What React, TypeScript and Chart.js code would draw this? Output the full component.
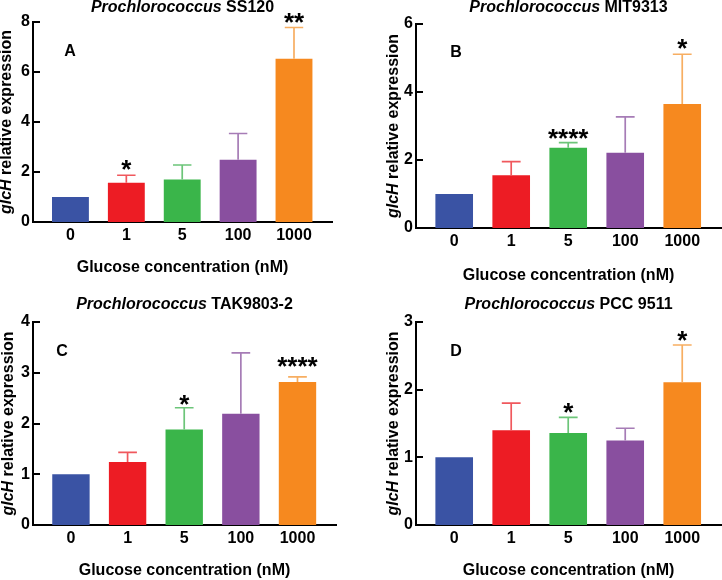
import React, { useEffect, useRef } from 'react';
import { Chart, registerables } from 'chart.js';

Chart.register(...registerables);

const FONT = '"Liberation Sans", Arial, Helvetica, sans-serif';

// ---- data ----
const categories = ['0', '1', '5', '100', '1000'];
const barColors = ['#3A53A4', '#ED1C24', '#3AB54A', '#894F9F', '#F6891F'];
const errColors = ['#8A9AD0', '#F0585D', '#6CC579', '#A67CB6', '#F7AE62'];

const strainA = 'SS120';
const meansA = [1.0, 1.57, 1.7, 2.49, 6.53];
const errsA = [0, 0.3, 0.58, 1.05, 1.25];
const starsA = ['', '*', '', '', '**'];

const strainB = 'MIT9313';
const meansB = [1.0, 1.55, 2.36, 2.21, 3.65];
const errsB = [0, 0.4, 0.15, 1.06, 1.46];
const starsB = ['', '', '****', '', '*'];

const strainC = 'TAK9803-2';
const meansC = [1.0, 1.24, 1.88, 2.19, 2.82];
const errsC = [0, 0.19, 0.43, 1.2, 0.1];
const starsC = ['', '', '*', '', '****'];

const strainD = 'PCC 9511';
const meansD = [1.0, 1.4, 1.36, 1.25, 2.11];
const errsD = [0, 0.4, 0.23, 0.18, 0.55];
const starsD = ['', '', '*', '', '*'];

const xTitle = 'Glucose concentration (nM)';
const genus = 'Prochlorococcus';
const yTitleItalic = 'glcH';
const yTitleRest = ' relative expression';

type PanelCfg = {
  letter: string;
  strain: string;
  means: number[];
  errs: number[];
  stars: string[];
  yMax: number;
  yStep: number;
  left: number;
  top: number;
  w: number;
  h: number;
  area: { l: number; r: number; t: number; b: number };
  titleY: number;
  letterPos: [number, number];
  yTitleX: number;
  xTitlePad: number;
  starGap: number[];
};

const panels: PanelCfg[] = [
  {
    letter: 'A', strain: strainA, means: meansA, errs: errsA, stars: starsA, yMax: 8, yStep: 2,
    left: 0, top: 0, w: 361, h: 290,
    area: { l: 33, r: 332, t: 22, b: 222 },
    titleY: 8, letterPos: [70, 52], yTitleX: 7, xTitlePad: 13, starGap: [12, 12, 12, 12, 12],
  },
  {
    letter: 'B', strain: strainB, means: meansB, errs: errsB, stars: starsB, yMax: 6, yStep: 2,
    left: 361, top: 0, w: 361, h: 290,
    area: { l: 55, r: 360, t: 24, b: 228 },
    titleY: 8, letterPos: [95, 53], yTitleX: 33, xTitlePad: 5, starGap: [12, 12, 11, 12, 12],
  },
  {
    letter: 'C', strain: strainC, means: meansC, errs: errsC, stars: starsC, yMax: 4, yStep: 1,
    left: 0, top: 290, w: 361, h: 290,
    area: { l: 33, r: 336, t: 32, b: 235 },
    titleY: 15, letterPos: [62, 62], yTitleX: 9, xTitlePad: 0, starGap: [11, 11, 10, 11, 17],
  },
  {
    letter: 'D', strain: strainD, means: meansD, errs: errsD, stars: starsD, yMax: 3, yStep: 1,
    left: 361, top: 290, w: 361, h: 290,
    area: { l: 55, r: 360, t: 32, b: 235 },
    titleY: 15, letterPos: [95, 62], yTitleX: 33, xTitlePad: 0, starGap: [11, 11, 11, 11, 11],
  },
];

function makeOverlay(p: PanelCfg) {
  return {
    id: 'overlay' + p.letter,
    afterDraw(chart: any) {
      const ctx = chart.ctx as CanvasRenderingContext2D;
      const ca = chart.chartArea;
      const ys = chart.scales.y;
      const meta = chart.getDatasetMeta(0);
      ctx.save();

      // inward y ticks
      ctx.strokeStyle = '#000';
      ctx.lineWidth = 2;
      ys.ticks.forEach((t: any) => {
        if (t.value <= 0) return;
        const y = Math.round(ys.getPixelForValue(t.value));
        ctx.beginPath();
        ctx.moveTo(ca.left, y);
        ctx.lineTo(ca.left + 7, y);
        ctx.stroke();
      });

      // error bars + stars
      meta.data.forEach((el: any, i: number) => {
        const top = p.means[i] + p.errs[i];
        const yTop = ys.getPixelForValue(top);
        if (p.errs[i] > 0) {
          ctx.strokeStyle = errColors[i];
          ctx.lineWidth = 1.7;
          ctx.beginPath();
          ctx.moveTo(el.x, el.y);
          ctx.lineTo(el.x, yTop);
          ctx.moveTo(el.x - el.width / 4, yTop);
          ctx.lineTo(el.x + el.width / 4, yTop);
          ctx.stroke();
        }
        if (p.stars[i]) {
          const fs = 26;
          ctx.fillStyle = '#000';
          ctx.font = `bold ${fs}px ${FONT}`;
          ctx.textAlign = 'center';
          ctx.textBaseline = 'alphabetic';
          const cy = yTop - p.starGap[i];
          ctx.fillText(p.stars[i], el.x, cy + 0.58 * fs);
        }
      });

      // title (mixed italic)
      ctx.fillStyle = '#000';
      ctx.textBaseline = 'middle';
      ctx.textAlign = 'left';
      const fItal = `italic bold 16px ${FONT}`;
      const fBold = `bold 16px ${FONT}`;
      ctx.font = fItal;
      const w1 = ctx.measureText(genus + ' ').width;
      ctx.font = fBold;
      const w2 = ctx.measureText(p.strain).width;
      const cx = (ca.left + ca.right) / 2;
      const x0 = cx - (w1 + w2) / 2;
      ctx.font = fItal;
      ctx.fillText(genus + ' ', x0, p.titleY);
      ctx.font = fBold;
      ctx.fillText(p.strain, x0 + w1, p.titleY);

      // panel letter
      ctx.font = `bold 16px ${FONT}`;
      ctx.textAlign = 'center';
      ctx.fillText(p.letter, p.letterPos[0], p.letterPos[1]);

      // y title (rotated, mixed italic)
      const yIt = `italic bold 16px ${FONT}`;
      const yB = `bold 16px ${FONT}`;
      ctx.font = yIt;
      const a1 = ctx.measureText(yTitleItalic).width;
      ctx.font = yB;
      const a2 = ctx.measureText(yTitleRest).width;
      const cyT = (ca.top + ca.bottom) / 2;
      ctx.translate(p.yTitleX, cyT);
      ctx.rotate(-Math.PI / 2);
      ctx.textAlign = 'left';
      const s0 = -(a1 + a2) / 2;
      ctx.font = yIt;
      ctx.fillText(yTitleItalic, s0, 0);
      ctx.font = yB;
      ctx.fillText(yTitleRest, s0 + a1, 0);

      ctx.restore();
    },
  };
}

function Panel({ p }: { p: PanelCfg }) {
  const ref = useRef<HTMLCanvasElement | null>(null);
  useEffect(() => {
    if (!ref.current) return;
    const tickFont = { family: FONT, size: 16, weight: 'bold' as const };
    const chart = new Chart(ref.current, {
      type: 'bar',
      data: {
        datasets: [
          {
            data: p.means.map((v, i) => ({ x: i, y: v })),
            backgroundColor: barColors,
            borderWidth: 0,
            barPercentage: 0.66,
            categoryPercentage: 1,
          } as any,
        ],
      },
      options: {
        animation: false,
        responsive: false,
        maintainAspectRatio: false,
        layout: { padding: { top: p.area.t, right: p.w - p.area.r, bottom: 0, left: 0 } },
        plugins: {
          legend: { display: false },
          tooltip: { enabled: false },
          title: { display: false },
        },
        scales: {
          x: {
            type: 'linear',
            offset: false,
            min: -0.67,
            max: 4.68,
            grid: { display: false, drawTicks: false },
            border: { display: true, color: '#000', width: 2 },
            ticks: {
              stepSize: 1,
              includeBounds: false,
              autoSkip: false,
              maxRotation: 0,
              padding: 4,
              color: '#000',
              font: tickFont,
              callback: (v: any) => {
                const n = Number(v);
                return Number.isInteger(n) && n >= 0 && n < categories.length ? categories[n] : '';
              },
            },
            title: {
              display: true,
              text: xTitle,
              color: '#000',
              font: { family: FONT, size: 16, weight: 'bold' },
              padding: { top: 0, bottom: p.xTitlePad },
            },
            afterFit: (s: any) => {
              s.height = p.h - p.area.b;
            },
          } as any,
          y: {
            min: 0,
            max: p.yMax,
            grid: { display: false, drawTicks: false },
            border: { display: true, color: '#000', width: 2 },
            ticks: { stepSize: p.yStep, padding: 3, color: '#000', font: tickFont },
            afterFit: (s: any) => {
              s.width = p.area.l;
            },
          } as any,
        },
      },
      plugins: [makeOverlay(p)],
    });
    return () => chart.destroy();
  }, [p]);
  return (
    <canvas
      ref={ref}
      width={p.w}
      height={p.h}
      style={{ position: 'absolute', left: p.left, top: p.top, width: p.w, height: p.h, display: 'block' }}
    />
  );
}

export default function App() {
  return (
    <div style={{ position: 'absolute', left: 0, top: 0, width: 722, height: 580, background: '#fff' }}>
      {panels.map((p) => (
        <Panel key={p.letter} p={p} />
      ))}
    </div>
  );
}
